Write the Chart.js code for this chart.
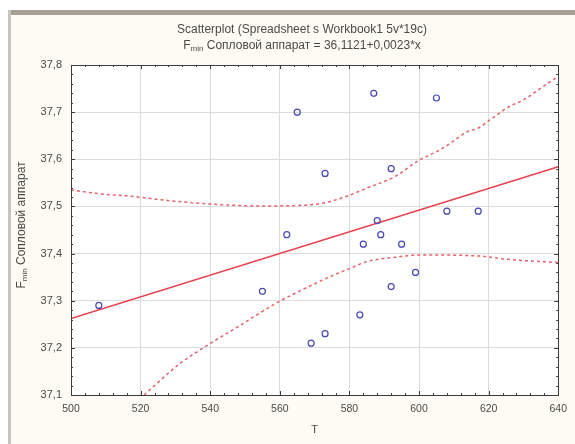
<!DOCTYPE html>
<html>
<head>
<meta charset="utf-8">
<script src="https://cdn.jsdelivr.net/npm/chart.js@4"></script>
<style>
html,body{margin:0;padding:0;background:#fff;}
#wrap{position:relative;width:575px;height:444px;}
</style>
</head>
<body>
<div id="wrap"><canvas id="c" width="575" height="444"></canvas></div>
<script>
// ---- data ----
const tValues = [508, 565, 573, 587, 605, 562, 555, 592, 588, 589, 584, 595, 608, 617, 599, 592, 583, 573, 569];
const fValues = [37.29, 37.70, 37.57, 37.74, 37.73, 37.44, 37.32, 37.58, 37.47, 37.44, 37.42, 37.42, 37.49, 37.49, 37.36, 37.33, 37.27, 37.23, 37.21];
const fitX = [500, 640];
const fitY = [37.2621, 37.5841];
const upperX = [500, 508, 518, 526, 538, 555, 568, 573, 579, 585, 593, 600, 606, 609, 614, 617, 621, 626, 630, 635, 640];
const upperY = [37.535, 37.527, 37.521, 37.514, 37.506, 37.501, 37.503, 37.508, 37.521, 37.539, 37.563, 37.598, 37.620, 37.634, 37.659, 37.666, 37.687, 37.712, 37.726, 37.751, 37.776];
const lowerX = [521, 531, 538, 548, 559, 565, 570, 576, 580, 585, 593, 600, 617, 625, 640];
const lowerY = [37.100, 37.165, 37.200, 37.245, 37.295, 37.318, 37.336, 37.356, 37.368, 37.383, 37.392, 37.397, 37.395, 37.388, 37.381];
const xTicks = [500, 520, 540, 560, 580, 600, 620, 640];
const yTicks = [37.1, 37.2, 37.3, 37.4, 37.5, 37.6, 37.7, 37.8];
const titleLine1 = 'Scatterplot (Spreadsheet s Workbook1 5v*19c)';
const titleLine2 = ['F', 'min', ' Сопловой аппарат = 36,1121+0,0023*x'];
const yTitle = ['F', 'min', ' Сопловой аппарат'];
const xTitle = 'T';

const toXY = (xs, ys) => xs.map((x, i) => ({x: x, y: ys[i]}));
const FONT = '"Liberation Sans", Arial, sans-serif';
const TXT = '#4a4a4a';

const framePlugin = {
  id: 'frame',
  beforeDraw(chart) {
    const ctx = chart.ctx, a = chart.chartArea;
    ctx.save();
    ctx.fillStyle = '#ffffff';
    ctx.fillRect(0, 0, chart.width, chart.height);
    ctx.fillStyle = '#fdfbf3';
    ctx.fillRect(11, 15, chart.width - 11, chart.height - 15);
    ctx.fillStyle = '#a59f96';
    ctx.fillRect(8, 10, chart.width - 8, 5);
    ctx.fillStyle = '#c9c4bb';
    ctx.fillRect(8, 10, 3, chart.height - 10);
    ctx.fillStyle = '#ffffff';
    ctx.fillRect(a.left, a.top, a.right - a.left, a.bottom - a.top);
    ctx.restore();
  },
  afterDatasetsDraw(chart) {
    const ctx = chart.ctx, a = chart.chartArea;
    const xs = chart.scales.x, ys = chart.scales.y;
    ctx.save();
    ctx.strokeStyle = '#3a3a3a';
    ctx.lineWidth = 1;
    ctx.strokeRect(Math.round(a.left) + 0.5, Math.round(a.top) + 0.5, Math.round(a.right - a.left), Math.round(a.bottom - a.top));
    ctx.beginPath();
    for (let v = 500; v <= 640.001; v += 4) {
      const px = Math.round(xs.getPixelForValue(v)) + 0.5;
      const major = Math.abs((v - 500) % 20) < 0.001;
      const len = major ? 4 : 2;
      ctx.moveTo(px, a.bottom); ctx.lineTo(px, a.bottom - len);
      ctx.moveTo(px, a.top); ctx.lineTo(px, a.top + len);
    }
    for (let k = 0; k <= 35; k++) {
      const v = 37.1 + k * 0.02;
      const py = Math.round(ys.getPixelForValue(v)) + 0.5;
      const len = (k % 5 === 0) ? 4 : 2;
      ctx.moveTo(a.left, py); ctx.lineTo(a.left + len, py);
      ctx.moveTo(a.right, py); ctx.lineTo(a.right - len, py);
    }
    ctx.stroke();

    // titles
    ctx.fillStyle = TXT;
    ctx.textBaseline = 'middle';
    ctx.textAlign = 'center';
    ctx.font = '12px ' + FONT;
    ctx.fillText(titleLine1, 302, 30);
    drawSub(ctx, titleLine2, 302, 46, 12, 'center');
    // x title
    ctx.font = '11px ' + FONT;
    ctx.textAlign = 'center';
    ctx.fillText(xTitle, (a.left + a.right) / 2, 430);
    // y title
    ctx.save();
    ctx.translate(22, 225);
    ctx.rotate(-Math.PI / 2);
    drawSub(ctx, yTitle, 0, 0, 12, 'center');
    ctx.restore();
    ctx.restore();
  }
};

function drawSub(ctx, parts, x, y, size, align) {
  const big = size + 'px ' + FONT, small = Math.round(size * 0.7) + 'px ' + FONT;
  ctx.font = big; const w0 = ctx.measureText(parts[0]).width;
  const w2 = ctx.measureText(parts[2]).width;
  ctx.font = small; const w1 = ctx.measureText(parts[1]).width;
  const total = w0 + w1 + w2;
  let sx = align === 'center' ? x - total / 2 : x;
  ctx.textAlign = 'left';
  ctx.font = big; ctx.fillText(parts[0], sx, y);
  ctx.font = small; ctx.fillText(parts[1], sx + w0, y + 3);
  ctx.font = big; ctx.fillText(parts[2], sx + w0 + w1, y);
}

new Chart(document.getElementById('c'), {
  type: 'scatter',
  data: {
    datasets: [
      {
        label: 'points',
        data: toXY(tValues, fValues),
        showLine: false,
        pointStyle: 'circle',
        pointRadius: 3,
        pointBorderWidth: 1.2,
        pointBorderColor: '#4646b4',
        pointBackgroundColor: 'rgba(0,0,0,0)',
        order: 0
      },
      {
        label: 'fit',
        data: toXY(fitX, fitY),
        showLine: true,
        pointRadius: 0,
        borderColor: '#e8404f',
        borderWidth: 1.5,
        order: 1
      },
      {
        label: 'upper',
        data: toXY(upperX, upperY),
        showLine: true,
        pointRadius: 0,
        borderColor: '#e4606c',
        borderWidth: 1.5,
        borderDash: [3, 3],
        cubicInterpolationMode: 'monotone',
        order: 2
      },
      {
        label: 'lower',
        data: toXY(lowerX, lowerY),
        showLine: true,
        pointRadius: 0,
        borderColor: '#e4606c',
        borderWidth: 1.5,
        borderDash: [3, 3],
        cubicInterpolationMode: 'monotone',
        order: 2
      }
    ]
  },
  options: {
    responsive: false,
    animation: false,
    events: [],
    layout: { padding: { left: 0, top: 65, right: 8, bottom: 0 } },
    plugins: { legend: { display: false }, tooltip: { enabled: false }, title: { display: false } },
    scales: {
      x: {
        type: 'linear',
        min: 500, max: 640,
        afterBuildTicks: (s) => { s.ticks = xTicks.map(v => ({value: v})); },
        afterFit: (s) => { s.height = 49; },
        grid: { color: '#dcdcdc', drawTicks: false },
        border: { display: false },
        ticks: { padding: 8, color: TXT, font: { family: FONT, size: 10.5 }, maxRotation: 0, callback: (v) => String(v) }
      },
      y: {
        type: 'linear',
        min: 37.1, max: 37.8,
        afterBuildTicks: (s) => { s.ticks = yTicks.map(v => ({value: v})); },
        afterFit: (s) => { s.width = 71; },
        grid: { color: '#dcdcdc', drawTicks: false },
        border: { display: false },
        ticks: { padding: 9, color: TXT, font: { family: FONT, size: 11 }, callback: (v) => v.toFixed(1).replace('.', ',') }
      }
    }
  },
  plugins: [framePlugin]
});
</script>
</body>
</html>
